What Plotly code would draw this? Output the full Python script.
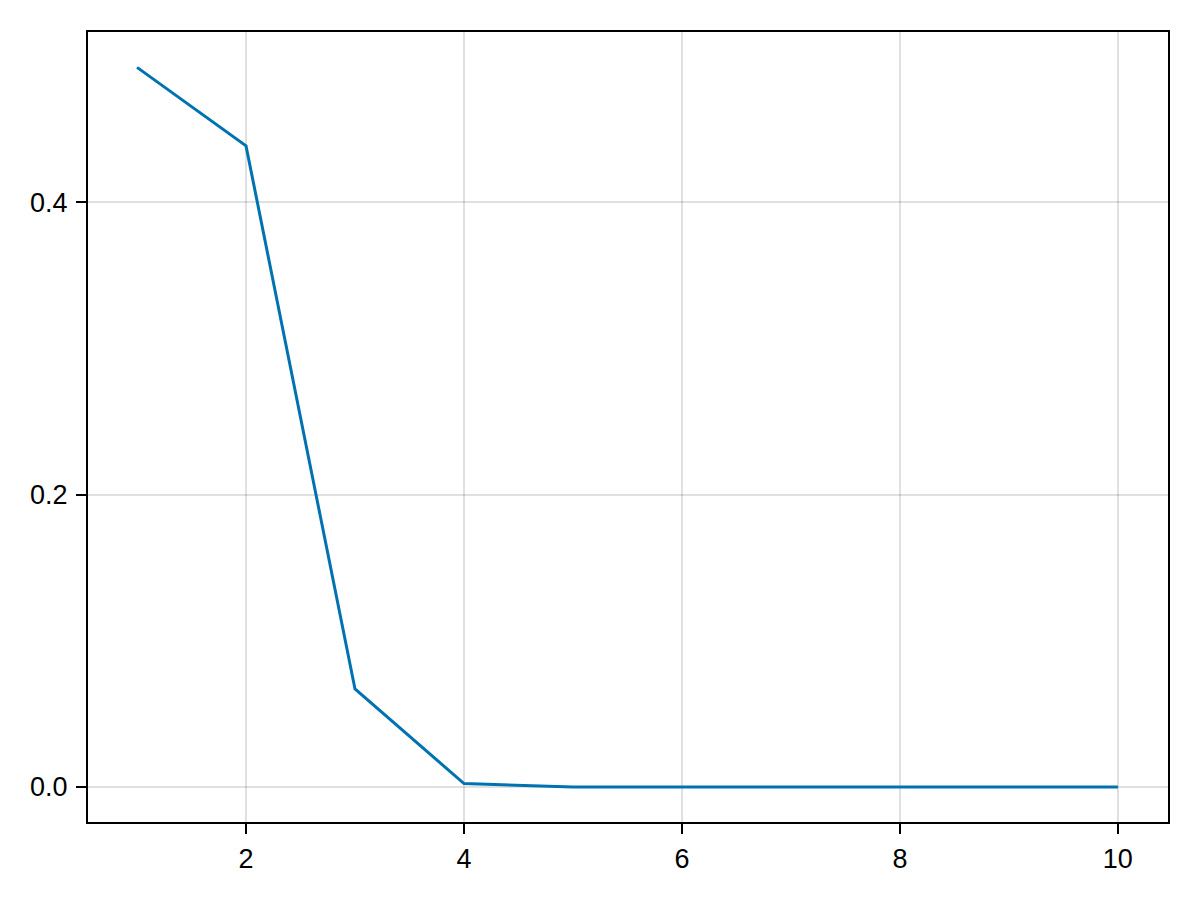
import plotly.graph_objects as go

#  Values
steps = [1, 2, 3, 4, 5, 6, 7, 8, 9, 10]
values = [0.4922, 0.4385, 0.0670, 0.0023, 0.0, 0.0, 0.0, 0.0, 0.0, 0.0]

x_ticks = [2, 4, 6, 8, 10]
y_ticks = [0.0, 0.2, 0.4]
y_tick_text = ['0.0', '0.2', '0.4']

fig = go.Figure()
fig.add_trace(go.Scatter(x=steps, y=values, mode='lines',
                         line=dict(color='#0072B2', width=3),
                         showlegend=False))

axis_style = dict(showline=True, mirror=True, linecolor='black', linewidth=2,
                  ticks='outside', ticklen=10, tickwidth=2, tickcolor='black',
                  showgrid=True, gridcolor='rgba(0,0,0,0.12)', gridwidth=2,
                  zeroline=False, tickfont=dict(size=27, color='black'))

fig.update_xaxes(range=[0.55, 10.46], tickvals=x_ticks, ticklabelstandoff=2,
                 **axis_style)
fig.update_yaxes(range=[-0.024, 0.5164], tickvals=y_ticks, ticktext=y_tick_text,
                 ticklabelstandoff=3, **axis_style)

#  Page body adds an 8px margin, so shift the plot area to line up
fig.update_layout(width=1200, height=900,
                  margin=dict(l=80, r=40, t=24, b=86),
                  plot_bgcolor='white', paper_bgcolor='white',
                  font=dict(family='Liberation Sans, Arial, sans-serif'))

fig.write_html('out.html')
